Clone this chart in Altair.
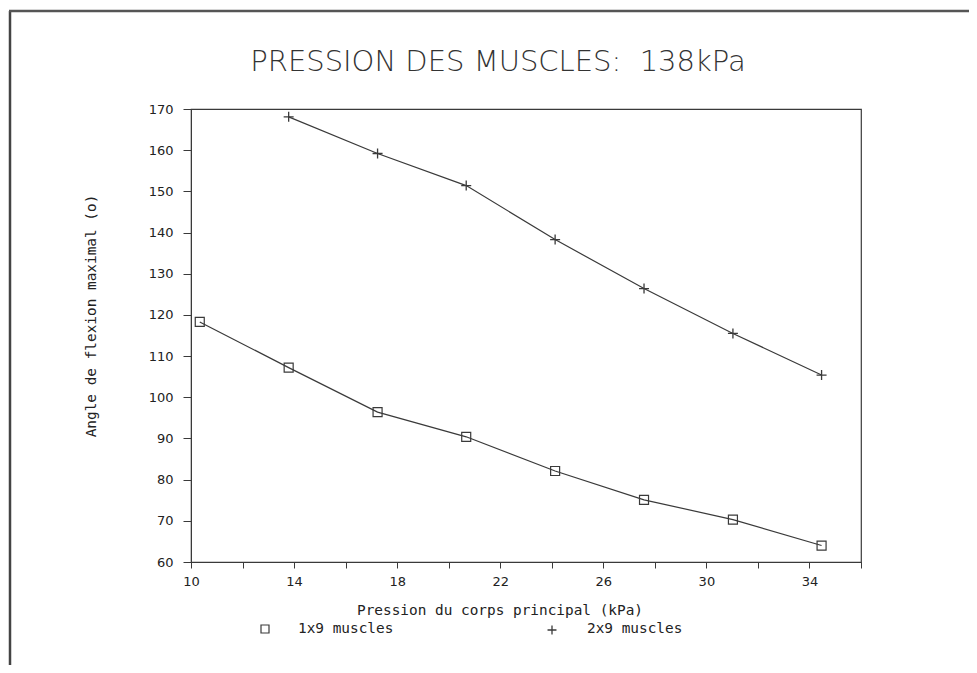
import altair as alt
import pandas as pd

# ---- data ----
pressure_1x9 = [10.34, 13.79, 17.24, 20.68, 24.13, 27.58, 31.03, 34.47]
angle_1x9 = [118.3, 107.2, 96.4, 90.4, 82.1, 75.1, 70.3, 64.0]
pressure_2x9 = [13.79, 17.24, 20.68, 24.13, 27.58, 31.03, 34.47]
angle_2x9 = [168.1, 159.2, 151.4, 138.3, 126.4, 115.5, 105.4]
series_names = ["1x9 muscles", "2x9 muscles"]
x_ticks = list(range(10, 37, 2))
y_ticks = list(range(60, 171, 10))
chart_title = "PRESSION DES MUSCLES:\u00a0\u00a0138kPa"
x_title = "Pression du corps principal (kPa)"
y_title = "Angle de flexion maximal (o)"

df1 = pd.DataFrame({"x": pressure_1x9, "y": angle_1x9, "s": series_names[0]})
df2 = pd.DataFrame({"x": pressure_2x9, "y": angle_2x9, "s": series_names[1]})

W, H = 670, 453
INK = "#3a3a3a"
FONT = "DejaVu Sans"
MONO = "DejaVu Sans Mono"
PLUS = "M-1,0L1,0M0,-1L0,1"

xs = alt.Scale(domain=[10, 36], nice=False, zero=False)
ys = alt.Scale(domain=[60, 170], nice=False, zero=False)

x_axis = alt.Axis(values=x_ticks,
                  labelExpr="(datum.value - 10) % 4 == 0 ? datum.label : ''",
                  tickSize=6, labelPadding=7, labelFontSize=13, labelFont=FONT,
                  labelColor="#222", domainColor=INK, tickColor=INK, grid=False,
                  title=None, labelFlush=False)
y_axis = alt.Axis(values=y_ticks, tickSize=8, labelPadding=10, labelFontSize=13,
                  labelFont=FONT, labelColor="#222", domainColor=INK, tickColor=INK,
                  grid=False, title=None)

line1 = alt.Chart(df1).mark_line(color=INK, strokeWidth=1.2).encode(
    x=alt.X("x:Q", scale=xs, axis=x_axis),
    y=alt.Y("y:Q", scale=ys, axis=y_axis),
)
pts1 = alt.Chart(df1).mark_point(shape="square", filled=False, color=INK,
                                  size=81, strokeWidth=1.2, opacity=1).encode(
    x=alt.X("x:Q", scale=xs), y=alt.Y("y:Q", scale=ys))
line2 = alt.Chart(df2).mark_line(color=INK, strokeWidth=1.2).encode(
    x=alt.X("x:Q", scale=xs), y=alt.Y("y:Q", scale=ys))
pts2 = alt.Chart(df2).mark_point(shape=PLUS, filled=False, color=INK,
                                  size=100, strokeWidth=1.3, opacity=1).encode(
    x=alt.X("x:Q", scale=xs), y=alt.Y("y:Q", scale=ys))

one = alt.Data(values=[{}])

title_mark = alt.Chart(one).mark_text(text=chart_title, font=FONT, fontSize=29,
                                      fontWeight=300, color="#333",
                                      align="center", baseline="middle").encode(
    x=alt.value(307), y=alt.value(-47))
xtitle_mark = alt.Chart(one).mark_text(text=x_title, font=MONO, fontSize=14.4,
                                       color="#222", align="center",
                                       baseline="middle").encode(
    x=alt.value(309), y=alt.value(502))
ytitle_mark = alt.Chart(one).mark_text(text=y_title, font=MONO, fontSize=14.4,
                                       color="#222", align="center",
                                       baseline="middle", angle=270).encode(
    x=alt.value(-99), y=alt.value(207))

leg_sym1 = alt.Chart(one).mark_point(shape="square", filled=False, color=INK,
                                     size=64, strokeWidth=1.2, opacity=1).encode(
    x=alt.value(74), y=alt.value(520))
leg_txt1 = alt.Chart(one).mark_text(text=series_names[0], font=MONO, fontSize=14.4,
                                    color="#222", align="left",
                                    baseline="middle").encode(
    x=alt.value(107), y=alt.value(520))
leg_sym2 = alt.Chart(one).mark_point(shape=PLUS, filled=False, color=INK,
                                     size=80, strokeWidth=1.3, opacity=1).encode(
    x=alt.value(361), y=alt.value(521))
leg_txt2 = alt.Chart(one).mark_text(text=series_names[1], font=MONO, fontSize=14.4,
                                    color="#222", align="left",
                                    baseline="middle").encode(
    x=alt.value(396), y=alt.value(520))

border_left = alt.Chart(one).mark_rule(color="#444", strokeWidth=2.5).encode(
    x=alt.value(-181), y=alt.value(-98), y2=alt.value(575))
border_top = alt.Chart(one).mark_rule(color="#555", strokeWidth=2.5).encode(
    y=alt.value(-98), x=alt.value(-182), x2=alt.value(780))

chart = alt.layer(
    line1, pts1, line2, pts2,
    title_mark, xtitle_mark, ytitle_mark,
    leg_sym1, leg_txt1, leg_sym2, leg_txt2,
    border_left, border_top,
).properties(
    width=W, height=H,
    background="white",
    autosize=alt.AutoSizeParams(type="none"),
    padding={"left": 183, "top": 101, "right": 108, "bottom": 103},
).configure_view(stroke=INK, strokeWidth=1.2)

chart.save("out.html", embed_options={"renderer": "svg", "actions": False})
